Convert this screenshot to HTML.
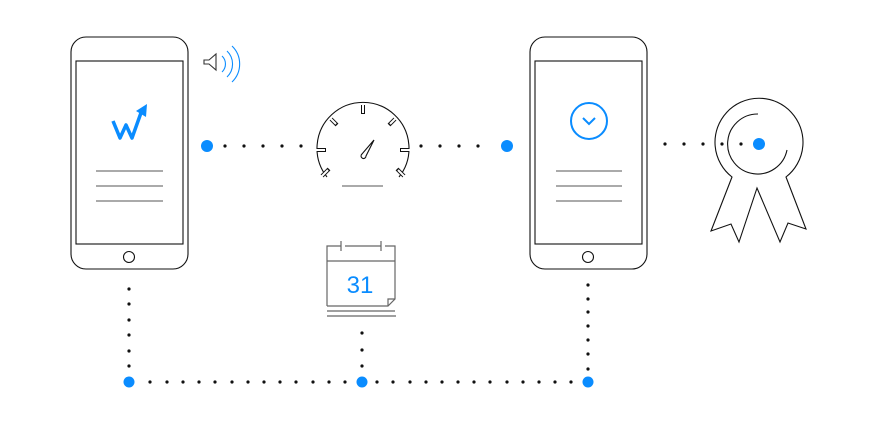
<!DOCTYPE html>
<html><head><style>html,body{margin:0;padding:0;background:#fff;}svg{display:block}</style></head>
<body>
<svg width="879" height="425" viewBox="0 0 879 425" xmlns="http://www.w3.org/2000/svg">
<g fill="none" stroke="#111" stroke-width="1.1">
<!-- phone 1 -->
<rect x="71" y="37" width="117" height="232" rx="15"/>
<rect x="76" y="61" width="107" height="183"/>
<circle cx="129" cy="257" r="5.5"/>
<g stroke="#555"><line x1="96" y1="171" x2="163" y2="171"/><line x1="96" y1="186" x2="163" y2="186"/><line x1="96" y1="201" x2="163" y2="201"/></g>
<!-- phone 2 -->
<rect x="530" y="37" width="117" height="232" rx="15"/>
<rect x="535" y="61" width="107" height="183"/>
<circle cx="588" cy="257" r="5.5"/>
<g stroke="#555"><line x1="556" y1="171" x2="622" y2="171"/><line x1="556" y1="186" x2="622" y2="186"/><line x1="556" y1="201" x2="622" y2="201"/></g>
<!-- speaker -->
<path d="M204 60h5l7-6v16l-7-6h-5z" stroke="#333"/>
<g stroke="#0a8cff"><path d="M222 56a11 11 0 0 1 0 16"/><path d="M227 51a18 18 0 0 1 0 26"/><path d="M232 46a25 25 0 0 1 0 36"/></g>
<!-- gauge -->
<path d="M327 177A46 46 0 1 1 399 177"/>
<g stroke-width="4" stroke-linecap="butt">
<line x1="363" y1="105" x2="363" y2="114"/>
<line x1="331" y1="119" x2="337" y2="125"/>
<line x1="395" y1="119" x2="389" y2="125"/>
<line x1="317" y1="150" x2="326" y2="150"/>
<line x1="409" y1="150" x2="400" y2="150"/>
<line x1="322" y1="176" x2="329" y2="169"/>
<line x1="404" y1="176" x2="397" y2="169"/>
</g>
<g stroke="#fff" stroke-width="2">
<line x1="363" y1="104" x2="363" y2="113"/>
<line x1="330" y1="118" x2="336" y2="124"/>
<line x1="396" y1="118" x2="390" y2="124"/>
<line x1="316" y1="150" x2="325" y2="150"/>
<line x1="410" y1="150" x2="401" y2="150"/>
<line x1="321" y1="177" x2="328" y2="170"/>
<line x1="405" y1="177" x2="398" y2="170"/>
</g>
<path d="M374 140L366 156a2.5 2.5 0 1 1 -4 -2z"/>
<line x1="342" y1="186" x2="383" y2="186" stroke="#555"/>
<!-- calendar -->
<g stroke="#666" stroke-width="1.2">
<path d="M327 306V246h14M345 246h36M385 246h10v53l-7 7h-61"/>
<line x1="341" y1="241" x2="341" y2="251"/><line x1="381" y1="241" x2="381" y2="251"/>
<line x1="327" y1="261" x2="395" y2="261"/>
<path d="M388 306v-7h7"/>
<line x1="327" y1="311" x2="395" y2="311"/><line x1="327" y1="316" x2="396" y2="316"/>
</g>
<!-- rosette -->
<path d="M732 177A44 44 0 1 1 786 177L806 229L788 223L780 242L757 188L739 242L731 224L711 231Z"/>
<path d="M758 114A30 30 0 1 0 787 150"/>
</g>
<!-- logo W -->
<path d="M113 121l7 17l6-13l6 13l10-28" fill="none" stroke="#0a8cff" stroke-width="3.5" stroke-linejoin="round"/>
<path d="M136 111l11-7l-1 13z" fill="#0a8cff"/>
<!-- check circle -->
<circle cx="589" cy="121" r="18" fill="none" stroke="#0a8cff" stroke-width="2"/>
<path d="M583 118l6 6l6-6" fill="none" stroke="#0a8cff" stroke-width="2"/>
<text x="360" y="293" font-family="Liberation Sans, sans-serif" font-size="24" fill="#0a8cff" text-anchor="middle">31</text>
<!-- dots -->
<g fill="#111">
<circle cx="225" cy="146" r="1.6"/><circle cx="244" cy="146" r="1.6"/><circle cx="263" cy="146" r="1.6"/><circle cx="282" cy="146" r="1.6"/><circle cx="301" cy="146" r="1.6"/>
<circle cx="421" cy="146" r="1.6"/><circle cx="440" cy="146" r="1.6"/><circle cx="459" cy="146" r="1.6"/><circle cx="478" cy="146" r="1.6"/>
<circle cx="665" cy="144" r="1.6"/><circle cx="684" cy="144" r="1.6"/><circle cx="703" cy="144" r="1.6"/><circle cx="722" cy="144" r="1.6"/><circle cx="741" cy="144" r="1.6"/>
<circle cx="129" cy="289" r="1.6"/><circle cx="129" cy="304" r="1.6"/><circle cx="129" cy="320" r="1.6"/><circle cx="129" cy="335" r="1.6"/><circle cx="129" cy="351" r="1.6"/><circle cx="129" cy="366" r="1.6"/>
<circle cx="362" cy="333" r="1.6"/><circle cx="362" cy="350" r="1.6"/><circle cx="362" cy="366" r="1.6"/>
<circle cx="588" cy="285" r="1.6"/><circle cx="588" cy="299" r="1.6"/><circle cx="588" cy="312" r="1.6"/><circle cx="588" cy="326" r="1.6"/><circle cx="588" cy="340" r="1.6"/><circle cx="588" cy="354" r="1.6"/><circle cx="588" cy="369" r="1.6"/>
<circle cx="150" cy="382" r="1.6"/><circle cx="167" cy="382" r="1.6"/><circle cx="183" cy="382" r="1.6"/><circle cx="199" cy="382" r="1.6"/><circle cx="215" cy="382" r="1.6"/><circle cx="232" cy="382" r="1.6"/><circle cx="248" cy="382" r="1.6"/><circle cx="264" cy="382" r="1.6"/><circle cx="280" cy="382" r="1.6"/><circle cx="296" cy="382" r="1.6"/><circle cx="313" cy="382" r="1.6"/><circle cx="329" cy="382" r="1.6"/><circle cx="345" cy="382" r="1.6"/>
<circle cx="377" cy="382" r="1.6"/><circle cx="393" cy="382" r="1.6"/><circle cx="410" cy="382" r="1.6"/><circle cx="426" cy="382" r="1.6"/><circle cx="442" cy="382" r="1.6"/><circle cx="458" cy="382" r="1.6"/><circle cx="474" cy="382" r="1.6"/><circle cx="490" cy="382" r="1.6"/><circle cx="507" cy="382" r="1.6"/><circle cx="523" cy="382" r="1.6"/><circle cx="539" cy="382" r="1.6"/><circle cx="555" cy="382" r="1.6"/><circle cx="571" cy="382" r="1.6"/>
</g>
<g fill="#0a8cff">
<circle cx="207" cy="146" r="6"/><circle cx="507" cy="146" r="6"/><circle cx="759" cy="144" r="6"/>
<circle cx="129" cy="382" r="5.5"/><circle cx="362" cy="382" r="5.5"/><circle cx="588" cy="382" r="5.5"/>
</g>
</svg>
</body></html>
